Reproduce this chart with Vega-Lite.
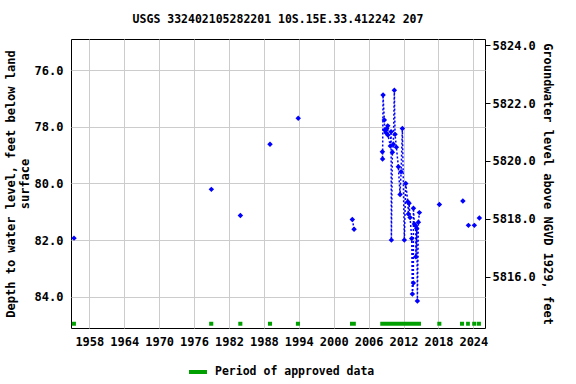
{
  "$schema": "https://vega.github.io/schema/vega-lite/v6.json",
  "autosize": "none",
  "width": 414,
  "height": 289,
  "padding": {"left": 71, "top": 39, "right": 91, "bottom": 56},
  "config": {
    "view": {"stroke": "black", "strokeWidth": 1},
    "font": "DejaVu Sans Mono",
    "axis": {"labelFont": "DejaVu Sans Mono", "labelFontSize": 12, "labelFontWeight": "bold", "labelColor": "black", "titleFont": "DejaVu Sans Mono", "titleFontSize": 12, "titleFontWeight": "bold", "titleColor": "black", "gridColor": "#cccccc", "gridOpacity": 1, "domain": false, "labelOverlap": false},
    "legend": {"labelFont": "DejaVu Sans Mono", "labelFontSize": 11.5, "labelFontWeight": "bold", "labelColor": "black", "labelLimit": 0}
  },
  "title": {"text": "USGS 332402105282201 10S.15E.33.412242 207", "font": "DejaVu Sans Mono", "fontSize": 11.5, "fontWeight": "bold", "color": "black", "offset": 11},
  "datasets": {
    "obs": [
      {"t": 1955.37, "d": 81.93, "s": null},
      {"t": 1978.97, "d": 80.21, "s": null},
      {"t": 1983.96, "d": 81.13, "s": null},
      {"t": 1989.05, "d": 78.62, "s": null},
      {"t": 1993.90, "d": 77.70, "s": null},
      {"t": 2003.20, "d": 81.27, "s": "a"},
      {"t": 2003.50, "d": 81.62, "s": "a"},
      {"t": 2008.36, "d": 78.88, "s": "b"},
      {"t": 2008.40, "d": 79.14, "s": "b"},
      {"t": 2008.48, "d": 76.88, "s": "b"},
      {"t": 2008.70, "d": 77.76, "s": "b"},
      {"t": 2008.75, "d": 78.12, "s": "b"},
      {"t": 2009.00, "d": 78.21, "s": "b"},
      {"t": 2009.12, "d": 78.06, "s": "b"},
      {"t": 2009.29, "d": 77.97, "s": "b"},
      {"t": 2009.32, "d": 78.29, "s": "b"},
      {"t": 2009.74, "d": 78.68, "s": "b"},
      {"t": 2009.86, "d": 78.18, "s": "b"},
      {"t": 2009.91, "d": 82.00, "s": "b"},
      {"t": 2010.08, "d": 78.90, "s": "b"},
      {"t": 2010.25, "d": 78.62, "s": "b"},
      {"t": 2010.42, "d": 76.71, "s": "b"},
      {"t": 2010.54, "d": 78.27, "s": "b"},
      {"t": 2010.77, "d": 78.72, "s": "b"},
      {"t": 2011.11, "d": 79.41, "s": "b"},
      {"t": 2011.40, "d": 80.39, "s": "b"},
      {"t": 2011.58, "d": 79.59, "s": "b"},
      {"t": 2011.80, "d": 78.06, "s": "b"},
      {"t": 2012.14, "d": 82.00, "s": "b"},
      {"t": 2012.38, "d": 80.00, "s": "b"},
      {"t": 2012.73, "d": 80.65, "s": "b"},
      {"t": 2012.83, "d": 81.08, "s": "b"},
      {"t": 2012.95, "d": 80.70, "s": "b"},
      {"t": 2013.12, "d": 81.20, "s": "b"},
      {"t": 2013.41, "d": 81.94, "s": "b"},
      {"t": 2013.52, "d": 83.90, "s": "b"},
      {"t": 2013.69, "d": 83.51, "s": "b"},
      {"t": 2013.70, "d": 80.88, "s": "b"},
      {"t": 2013.86, "d": 81.43, "s": "b"},
      {"t": 2014.10, "d": 81.50, "s": "b"},
      {"t": 2014.12, "d": 82.59, "s": "b"},
      {"t": 2014.27, "d": 81.59, "s": "b"},
      {"t": 2014.38, "d": 84.15, "s": "b"},
      {"t": 2014.55, "d": 81.37, "s": "b"},
      {"t": 2014.72, "d": 81.03, "s": "b"},
      {"t": 2018.16, "d": 80.74, "s": null},
      {"t": 2022.20, "d": 80.62, "s": null},
      {"t": 2023.15, "d": 81.48, "s": null},
      {"t": 2024.17, "d": 81.48, "s": null},
      {"t": 2025.03, "d": 81.22, "s": null}
    ],
    "approved": [
      {"start": 1955.0, "end": 1955.7, "label": "Period of approved data"},
      {"start": 1978.6, "end": 1979.3, "label": "Period of approved data"},
      {"start": 1983.6, "end": 1984.3, "label": "Period of approved data"},
      {"start": 1988.7, "end": 1989.4, "label": "Period of approved data"},
      {"start": 1993.5, "end": 1994.2, "label": "Period of approved data"},
      {"start": 2002.8, "end": 2003.8, "label": "Period of approved data"},
      {"start": 2008.0, "end": 2015.0, "label": "Period of approved data"},
      {"start": 2017.8, "end": 2018.5, "label": "Period of approved data"},
      {"start": 2021.7, "end": 2022.4, "label": "Period of approved data"},
      {"start": 2022.75, "end": 2023.4, "label": "Period of approved data"},
      {"start": 2023.8, "end": 2024.5, "label": "Period of approved data"},
      {"start": 2024.6, "end": 2025.3, "label": "Period of approved data"}
    ],
    "elev": [{"e": 5814.22}, {"e": 5824.22}]
  },
  "layer": [
    {
      "layer": [
        {
          "data": {"name": "approved"},
          "mark": {"type": "rect"},
          "encoding": {
            "x": {"field": "start", "type": "quantitative", "scale": {"domain": [1954.85, 2026.0], "nice": false, "zero": false}, "axis": {"values": [1958, 1964, 1970, 1976, 1982, 1988, 1994, 2000, 2006, 2012, 2018, 2024], "tickCount": 30, "format": "d", "title": null, "tickSize": 0, "labelPadding": 8, "grid": true, "labelOverlap": false, "labelFlush": false, "labelBound": false}},
            "x2": {"field": "end"},
            "y": {"datum": 84.88, "type": "quantitative", "scale": {"domain": [85.10, 74.906], "nice": false, "zero": false}, "axis": {"values": [76, 78, 80, 82, 84], "tickCount": 20, "format": ".1f", "tickSize": 0, "labelPadding": 8, "grid": true, "title": ["Depth to water level, feet below land", "surface"], "titlePadding": 3}},
            "y2": {"datum": 85.02},
            "color": {"field": "label", "type": "nominal", "scale": {"range": ["#00a000"]}, "legend": {"title": null, "orient": "none", "legendX": 116, "legendY": 322, "symbolType": "stroke", "symbolStrokeColor": "#00a000", "symbolStrokeWidth": 4, "symbolSize": 324, "labelOffset": 6}}
          }
        },
        {
          "data": {"name": "obs"},
          "transform": [{"filter": "datum.s != null"}],
          "mark": {"type": "line", "color": "#0000ff", "strokeWidth": 1.5, "strokeDash": [2, 2]},
          "encoding": {
            "x": {"field": "t", "type": "quantitative"},
            "y": {"field": "d", "type": "quantitative"},
            "detail": {"field": "s"},
            "order": {"field": "t"}
          }
        },
        {
          "data": {"name": "obs"},
          "mark": {"type": "point", "shape": "diamond", "filled": true, "color": "#0000ff", "size": 30, "opacity": 1},
          "encoding": {
            "x": {"field": "t", "type": "quantitative"},
            "y": {"field": "d", "type": "quantitative"}
          }
        }
      ]
    },
    {
      "data": {"name": "elev"},
      "mark": {"type": "point", "opacity": 0},
      "encoding": {
        "y": {"field": "e", "type": "quantitative", "scale": {"domain": [5814.22, 5824.22], "nice": false, "zero": false}, "axis": {"orient": "right", "values": [5816, 5818, 5820, 5822, 5824], "tickCount": 20, "format": ".1f", "grid": false, "tickSize": 5, "tickColor": "black", "labelPadding": 2, "title": "Groundwater level above NGVD 1929, feet", "titlePadding": 5}}
      }
    }
  ],
  "resolve": {"scale": {"y": "independent"}}
}
